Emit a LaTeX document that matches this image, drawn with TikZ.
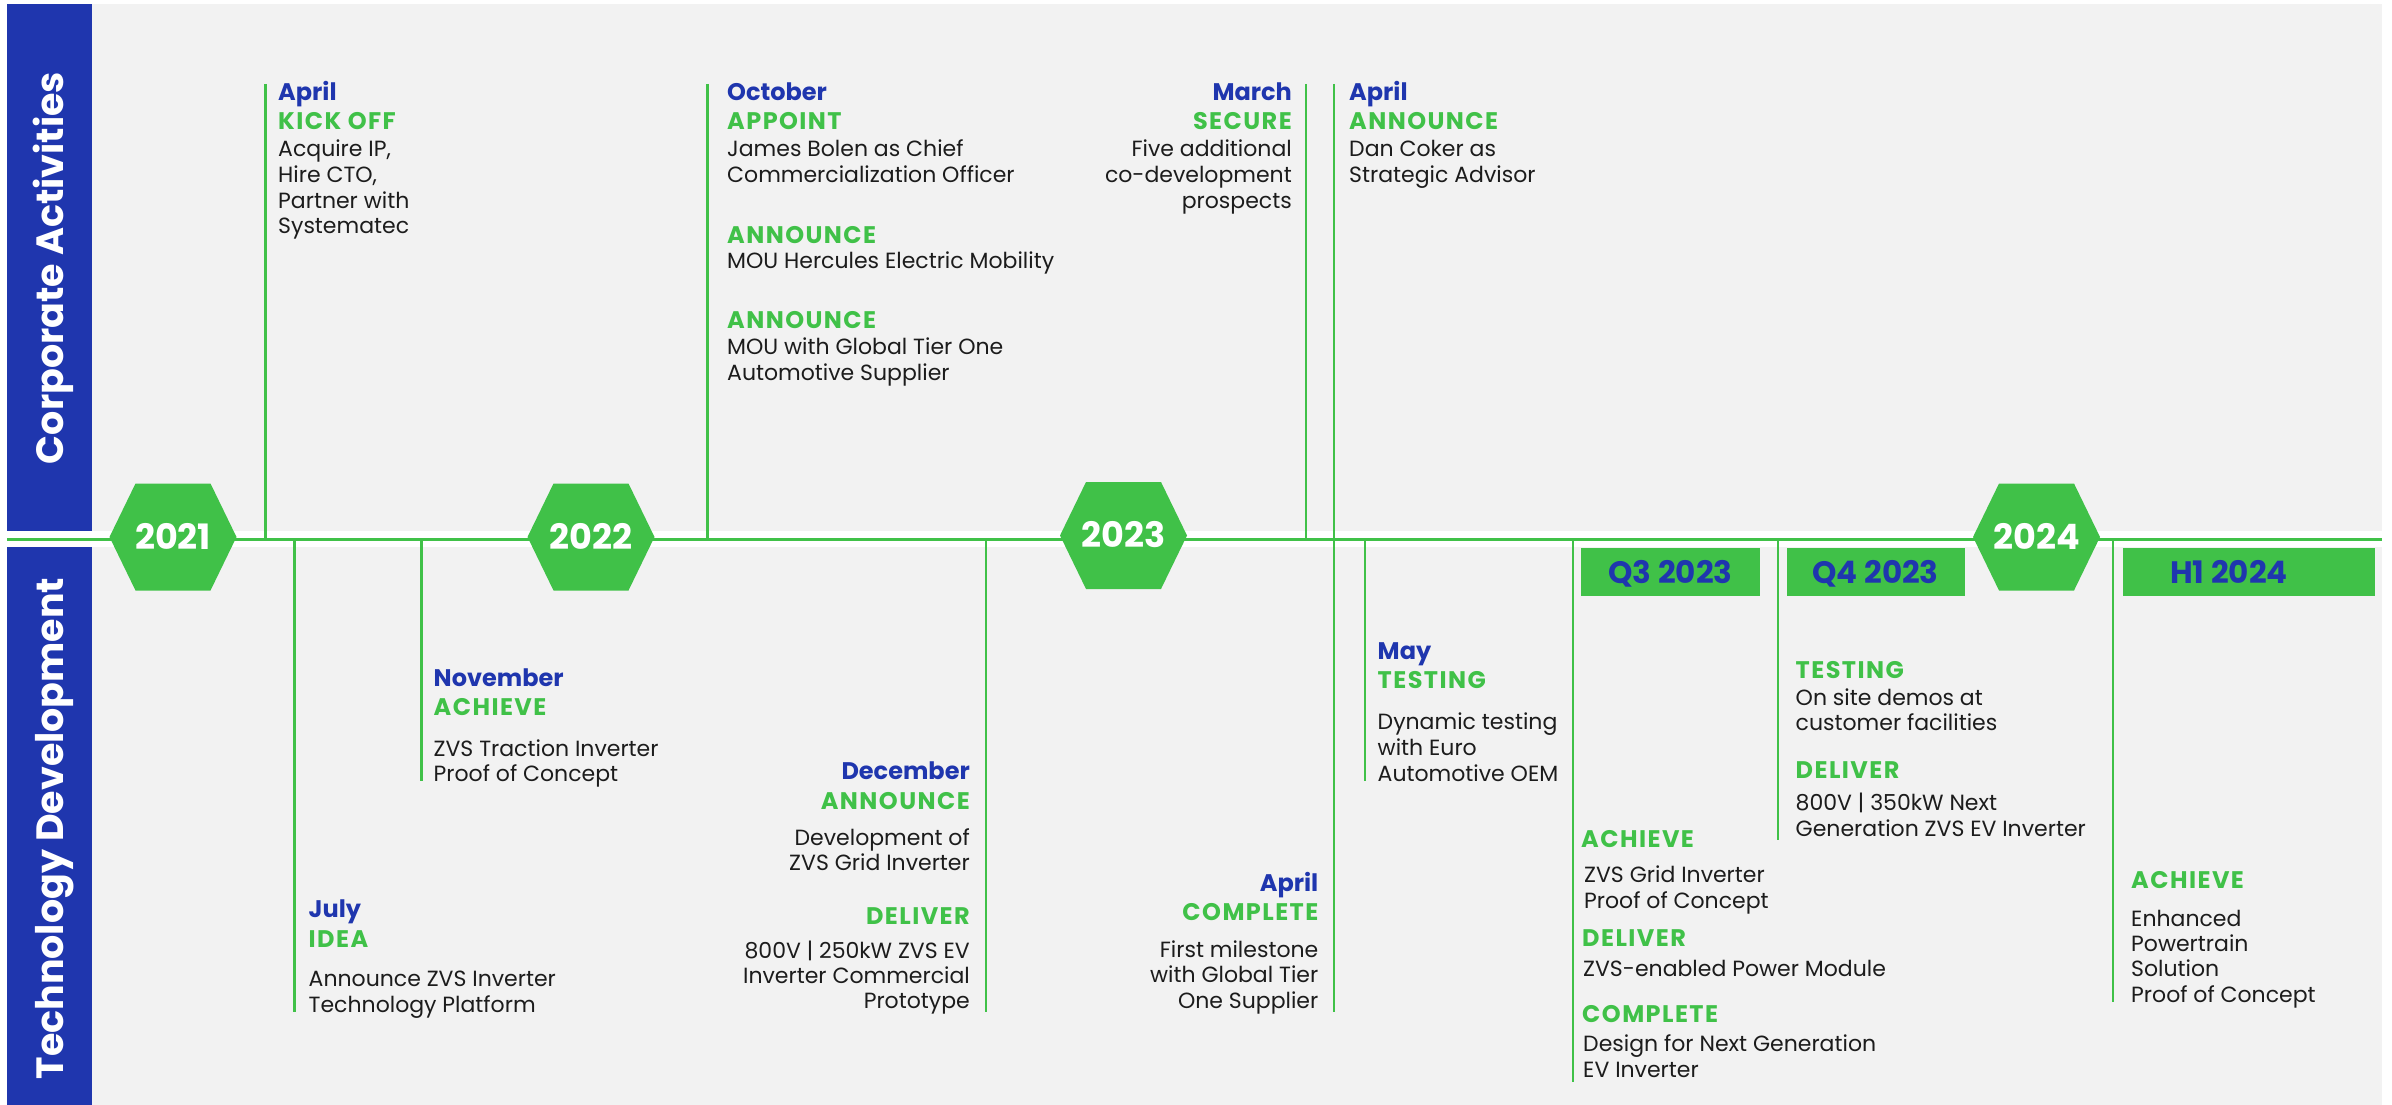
\documentclass[tikz,border=0pt]{standalone}
\usepackage{fontspec}
\setmainfont{Poppins}
\definecolor{tlblue}{RGB}{31,54,174}
\definecolor{tlgreen}{RGB}{64,193,72}
\definecolor{tlbg}{RGB}{242,242,242}
\definecolor{tltext}{RGB}{28,28,28}
\tikzset{
 mo/.style={font=\fontsize{24}{26}\selectfont\bfseries, text=tlblue, inner sep=0pt},
 ac/.style={font=\fontsize{24}{26}\selectfont\bfseries\addfontfeature{LetterSpace=6}, text=tlgreen, inner sep=0pt},
 bd/.style={font=\fontsize{22}{25}\selectfont, text=tltext, inner sep=0pt},
 lb/.style={anchor=base west},
 rb/.style={anchor=base east},
 tick/.style={draw=tlgreen, line width=2.5pt},
 hexa/.style={fill=tlgreen},
 yr/.style={font=\fontsize{35}{40}\selectfont\bfseries, text=white, inner sep=0pt, anchor=base},
 qbox/.style={fill=tlgreen, inner sep=0pt, anchor=north west},
 qtxt/.style={font=\fontsize{31}{35}\selectfont\bfseries, text=tlblue, inner sep=0pt, anchor=base},
 side/.style={font=\fontsize{38}{42}\selectfont\bfseries, text=white, rotate=90, inner sep=0pt, anchor=base},
}
\newcommand\hexshape[2]{\fill[hexa] (#1-63.5,#2) -- (#1-37.5,#2-53.5) -- (#1+37.5,#2-53.5) -- (#1+63.5,#2) -- (#1+37.5,#2+53.5) -- (#1-37.5,#2+53.5) -- cycle;}
\begin{document}
\begin{tikzpicture}[x=1pt,y=-1pt]
\useasboundingbox (0,0) rectangle (2392,1105);
% background
\fill[tlbg] (7,4) rectangle (2382,1105);
\fill[tlblue] (7,4) rectangle (92,531);
\fill[tlblue] (7,546.5) rectangle (92,1105);
\fill[white] (7,531) rectangle (2382,546.5);
\coordinate (tlL) at (7,539);
\coordinate (tlR) at (2382,539);
\draw[draw=tlgreen, line width=3pt] (tlL) -- (tlR);
% side labels
\node[side] (sideA) at (63,268) {Corporate Activities};
\node[side] (sideB) at (63,828.5) {Technology Development};
% hexagons
\hexshape{173}{537}
\hexshape{591}{537}
\hexshape{1123.5}{535.5}
\hexshape{2036.5}{537}
\node[yr] (y21) at (173,549) {2021};
\node[yr] (y22) at (591,549) {2022};
\node[yr] (y23) at (1123.5,547.5) {2023};
\node[yr] (y24) at (2036.5,549) {2024};
% quarter boxes
\node[qbox, minimum width=179pt, minimum height=48pt] (q3box) at (1581,548) {};
\node[qbox, minimum width=178.5pt, minimum height=48pt] (q4box) at (1786.5,548) {};
\node[qbox, minimum width=252.5pt, minimum height=48pt] (h1box) at (2122.5,548) {};
\node[qtxt] (q3t) at (1670.5,583) {Q3 2023};
\node[qtxt] (q4t) at (1875.5,583) {Q4 2023};
\node[qtxt] (h1t) at (2229,583) {H1 2024};
% ticks top
\coordinate (a1t) at (265.5,84);  \coordinate (a1b) at (265.5,539);
\coordinate (a2t) at (707.7,84);  \coordinate (a2b) at (707.7,539);
\coordinate (a3t) at (1306,84);   \coordinate (a3b) at (1306,539);
\coordinate (a4t) at (1334,84);   \coordinate (a4b) at (1334,1012);
\draw[tick] (a1t) -- (a1b);
\draw[tick] (a2t) -- (a2b);
\draw[tick] (a3t) -- (a3b);
\draw[tick] (a4t) -- (a4b);
% ticks bottom
\coordinate (b1t) at (294.5,539); \coordinate (b1b) at (294.5,1012);
\coordinate (b2t) at (421.5,539); \coordinate (b2b) at (421.5,781);
\coordinate (b3t) at (986,539);   \coordinate (b3b) at (986,1012);
\coordinate (b4t) at (1365,539);  \coordinate (b4b) at (1365,781);
\coordinate (b5t) at (1573,539);  \coordinate (b5b) at (1573,1082);
\coordinate (b6t) at (1778,539);  \coordinate (b6b) at (1778,840);
\coordinate (b7t) at (2113,539);  \coordinate (b7b) at (2113,1002);
\draw[tick] (b1t) -- (b1b);
\draw[tick] (b2t) -- (b2b);
\draw[tick] (b3t) -- (b3b);
\draw[tick] (b4t) -- (b4b);
\draw[tick] (b5t) -- (b5b);
\draw[tick] (b6t) -- (b6b);
\draw[tick] (b7t) -- (b7b);
% ---- top texts
\node[mo,lb] (t1a) at (278,101) {April};
\node[ac,lb] (t1b) at (278,129.5) {KICK OFF};
\node[bd,lb] (t1c) at (278,157) {Acquire IP,};
\node[bd,lb] (t1d) at (278,182.5) {Hire CTO,};
\node[bd,lb] (t1e) at (278,208) {Partner with};
\node[bd,lb] (t1f) at (278,233.5) {Systematec};
\node[mo,lb] (t2a) at (727,101) {October};
\node[ac,lb] (t2b) at (727,129.5) {APPOINT};
\node[bd,lb] (t2c) at (727,157) {James Bolen as Chief};
\node[bd,lb] (t2d) at (727,182.5) {Commercialization Officer};
\node[ac,lb] (t2e) at (727,243) {ANNOUNCE};
\node[bd,lb] (t2f) at (727,268.5) {MOU Hercules Electric Mobility};
\node[ac,lb] (t2g) at (727,328.5) {ANNOUNCE};
\node[bd,lb] (t2h) at (727,354.5) {MOU with Global Tier One};
\node[bd,lb] (t2i) at (727,380) {Automotive Supplier};
\node[mo,rb] (t3a) at (1292,101) {March};
\node[ac,rb] (t3b) at (1292,129.5) {SECURE};
\node[bd,rb] (t3c) at (1292,157) {Five additional};
\node[bd,rb] (t3d) at (1292,182.5) {co-development};
\node[bd,rb] (t3e) at (1292,208) {prospects};
\node[mo,lb] (t4a) at (1349,101) {April};
\node[ac,lb] (t4b) at (1349,129.5) {ANNOUNCE};
\node[bd,lb] (t4c) at (1349,157) {Dan Coker as};
\node[bd,lb] (t4d) at (1349,182.5) {Strategic Advisor};
% ---- bottom texts
\node[mo,lb] (u1a) at (308.5,917) {July};
\node[ac,lb] (u1b) at (308.5,947) {IDEA};
\node[bd,lb] (u1c) at (308.5,986) {Announce ZVS Inverter};
\node[bd,lb] (u1d) at (308.5,1012) {Technology Platform};
\node[mo,lb] (u2a) at (433.5,686) {November};
\node[ac,lb] (u2b) at (433.5,715) {ACHIEVE};
\node[bd,lb] (u2c) at (433.5,756) {ZVS Traction Inverter};
\node[bd,lb] (u2d) at (433.5,781) {Proof of Concept};
\node[mo,rb] (u3a) at (970,779) {December};
\node[ac,rb] (u3b) at (970,809) {ANNOUNCE};
\node[bd,rb] (u3c) at (970,845.5) {Development of};
\node[bd,rb] (u3d) at (970,870.5) {ZVS Grid Inverter};
\node[ac,rb] (u3e) at (970,924.5) {DELIVER};
\node[bd,rb] (u3f) at (970,958) {800V | 250kW ZVS EV};
\node[bd,rb] (u3g) at (970,983.5) {Inverter Commercial};
\node[bd,rb] (u3h) at (970,1008.5) {Prototype};
\node[mo,rb] (u4a) at (1318.5,891) {April};
\node[ac,rb] (u4b) at (1318.5,920) {COMPLETE};
\node[bd,rb] (u4c) at (1318.5,957) {First milestone};
\node[bd,rb] (u4d) at (1318.5,982.5) {with Global Tier};
\node[bd,rb] (u4e) at (1318.5,1008) {One Supplier};
\node[mo,lb] (u5a) at (1377.5,659.5) {May};
\node[ac,lb] (u5b) at (1377.5,688.5) {TESTING};
\node[bd,lb] (u5c) at (1377.5,729) {Dynamic testing};
\node[bd,lb] (u5d) at (1377.5,755) {with Euro};
\node[bd,lb] (u5e) at (1377.5,781) {Automotive OEM};
\node[ac,lb] (u6a) at (1581,847) {ACHIEVE};
\node[bd,lb] (u6b) at (1584,882) {ZVS Grid Inverter};
\node[bd,lb] (u6c) at (1584,908) {Proof of Concept};
\node[ac,lb] (u6d) at (1582,946) {DELIVER};
\node[bd,lb] (u6e) at (1583,976) {ZVS-enabled Power Module};
\node[ac,lb] (u6f) at (1582,1022) {COMPLETE};
\node[bd,lb] (u6g) at (1583,1051) {Design for Next Generation};
\node[bd,lb] (u6h) at (1583,1077) {EV Inverter};
\node[ac,lb] (u7a) at (1795.5,678.5) {TESTING};
\node[bd,lb] (u7b) at (1795.5,705) {On site demos at};
\node[bd,lb] (u7c) at (1795.5,730.5) {customer facilities};
\node[ac,lb] (u7d) at (1795.5,778) {DELIVER};
\node[bd,lb] (u7e) at (1795.5,810) {800V | 350kW Next};
\node[bd,lb] (u7f) at (1795.5,836) {Generation ZVS EV Inverter};
\node[ac,lb] (u8a) at (2131,888) {ACHIEVE};
\node[bd,lb] (u8b) at (2131,926) {Enhanced};
\node[bd,lb] (u8c) at (2131,951) {Powertrain};
\node[bd,lb] (u8d) at (2131,976) {Solution};
\node[bd,lb] (u8e) at (2131,1002) {Proof of Concept};
\end{tikzpicture}
\end{document}
